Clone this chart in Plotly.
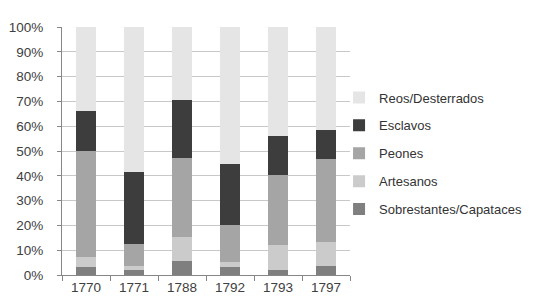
import plotly.graph_objects as go

years = ["1770", "1771", "1788", "1792", "1793", "1797"]
sobrestantes = [3.2, 2.0, 5.5, 3.4, 2.2, 3.8]
artesanos = [4.1, 1.8, 9.8, 1.8, 9.8, 9.4]
peones = [42.7, 8.6, 31.7, 15.1, 28.3, 33.4]
esclavos = [16.0, 29.2, 23.6, 24.5, 15.9, 11.7]
reos = [34.0, 58.4, 29.4, 55.2, 43.8, 41.7]

series = [
    ("Sobrestantes/Capataces", sobrestantes, "#7f7f7f"),
    ("Artesanos", artesanos, "#cbcbcb"),
    ("Peones", peones, "#a5a5a5"),
    ("Esclavos", esclavos, "#3d3d3d"),
    ("Reos/Desterrados", reos, "#e5e5e5"),
]

fig = go.Figure()
for i, (name, vals, col) in enumerate(series):
    fig.add_trace(go.Bar(x=years, y=vals, name=name, marker=dict(color=col, line=dict(width=0)),
                         legendgroup=name, legendrank=100 - i))

font = "Liberation Sans"
fig.update_layout(
    width=539, height=302,
    margin=dict(l=54, r=197, t=19, b=35, autoexpand=False),
    barmode="stack", barnorm="percent", bargap=0.6,
    plot_bgcolor="white", paper_bgcolor="white",
    font=dict(family=font, size=13, color="#404040"),
    showlegend=True,
    legend=dict(x=0.962, xanchor="left", y=0.49, yanchor="middle",
                traceorder="grouped", tracegroupgap=8,
                font=dict(family=font, size=13, color="#333333"),
                bgcolor="rgba(0,0,0,0)"),
    xaxis=dict(showline=True, linecolor="#868686", linewidth=1, automargin=False,
               ticks="outside", tickson="boundaries", ticklen=5, tickcolor="#868686",
               showgrid=False, tickfont=dict(size=13.5)),
    yaxis=dict(range=[0, 100], dtick=10, ticksuffix="%", showline=True, linecolor="#868686",
               gridcolor="#c8c8c8", gridwidth=1, ticks="outside", ticklen=4, tickcolor="#868686",
               ticklabelstandoff=11, automargin=False,
               zeroline=False, tickfont=dict(size=13.5)),
)

fig.write_html("out.html")
